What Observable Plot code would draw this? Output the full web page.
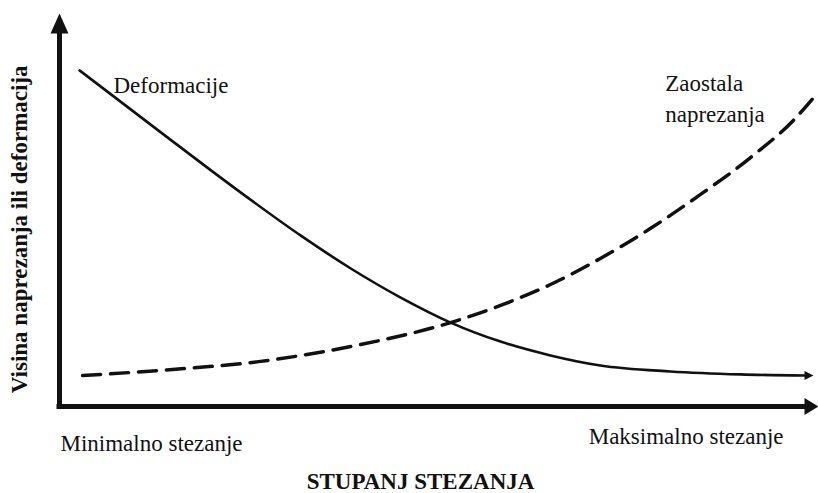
<!DOCTYPE html>
<html>
<head>
<meta charset="utf-8">
<script src="https://cdn.jsdelivr.net/npm/d3@7"></script>
<script src="https://cdn.jsdelivr.net/npm/@observablehq/plot@0.6"></script>
<style>
  html, body { margin: 0; padding: 0; background: #fff; }
  #chart svg { display: block; }
</style>
</head>
<body>
<div id="chart"></div>
<script>
// ---- data (arbitrary 0–100 units) ----
const deformacijeX = [2.7, 13.6, 24.3, 32.4, 39.1, 45.8, 52.5, 59.2, 65.9, 72.6, 82.0, 91.4, 100];
const deformacijeY = [90.1, 73.5, 57.4, 45.8, 37.0, 29.2, 22.5, 17.4, 13.7, 11.0, 9.4, 8.6, 8.3];

const naprezanjaX = [3.1, 13.6, 27.0, 40.4, 52.5, 59.2, 65.9, 72.6, 79.3, 86.0, 92.8, 98.5, 101.7];
const naprezanjaY = [8.3, 9.7, 12.1, 16.6, 22.5, 27.1, 32.7, 39.7, 47.7, 56.8, 66.8, 76.7, 83.9];

const seriesLabels = ["Deformacije", "Zaostala\nnaprezanja"];
const seriesLabelX = [7.25, 81.3];
const seriesLabelY = [89.9, 90.6];

const tickPositions = [0, 100];
const tickLabels = ["Minimalno stezanje", "Maksimalno stezanje"];

const xAxisTitle = "STUPANJ STEZANJA";
const yAxisTitle = "Visina naprezanja ili deformacija";

// ---- build tables ----
const solid = deformacijeX.map((x, i) => ({x, y: deformacijeY[i]}));
const dashed = naprezanjaX.map((x, i) => ({x, y: naprezanjaY[i]}));
const labels = seriesLabels.map((t, i) => ({t, x: seriesLabelX[i], y: seriesLabelY[i]}));

// filled arrowhead symbol: tip points "up" (rotate to orient); base centred on the anchor
function arrowHead(len, wid) {
  return {
    draw(ctx) {
      ctx.moveTo(0, -len);
      ctx.lineTo(wid / 2, 0);
      ctx.lineTo(-wid / 2, 0);
      ctx.closePath();
    }
  };
}

const ink = "#111";
const font = "Liberation Serif, Times New Roman, serif";

const chart = Plot.plot({
  width: 818,
  height: 493,
  marginLeft: 59,
  marginRight: 14,
  marginTop: 33,
  marginBottom: 87,
  x: {domain: [0, 100], axis: null},
  y: {domain: [0, 100], axis: null},
  style: {fontFamily: font, background: "#fff", color: ink},
  marks: [
    // axes
    Plot.ruleY([0], {stroke: ink, strokeWidth: 5, strokeLinecap: "square"}),
    Plot.ruleX([0], {stroke: ink, strokeWidth: 5, strokeLinecap: "square"}),
    Plot.dot([{x: 0, y: 100}], {x: "x", y: "y", symbol: arrowHead(20, 18), fill: ink, stroke: "none"}),
    Plot.dot([{x: 100, y: 0}], {x: "x", y: "y", symbol: arrowHead(14, 17), rotate: 90, fill: ink, stroke: "none"}),
    // curves
    Plot.line(dashed, {x: "x", y: "y", curve: "monotone-x", stroke: ink, strokeWidth: 3.5, strokeDasharray: "18,10"}),
    Plot.line(solid, {x: "x", y: "y", curve: "monotone-x", stroke: ink, strokeWidth: 2.6}),
    Plot.dot(solid.slice(-1), {x: "x", y: "y", symbol: arrowHead(9, 9), rotate: 90, fill: ink, stroke: "none"}),
    // curve labels
    Plot.text(labels, {x: "x", y: "y", text: "t", textAnchor: "start", lineAnchor: "top", lineHeight: 1.35,
      fontSize: 23, fill: ink}),
    // tick labels
    Plot.text([tickPositions[0]], {x: d => d, y: 0, text: () => tickLabels[0], textAnchor: "start", dx: 1, dy: 37.6,
      fontSize: 23, fill: ink}),
    Plot.text([tickPositions[1]], {x: d => d, y: 0, text: () => tickLabels[1], textAnchor: "end", dx: -21, dy: 30.6,
      fontSize: 23, fill: ink}),
    // axis titles
    Plot.text([xAxisTitle], {frameAnchor: "bottom", text: d => d, dx: -11.5, dy: 82,
      fontSize: 23, fontWeight: "bold", fill: ink}),
    Plot.text([yAxisTitle], {x: () => -5.3, y: () => 47.5, text: d => d, rotate: -90,
      fontSize: 23, fontWeight: "bold", fill: ink})
  ]
});

document.getElementById("chart").appendChild(chart);
</script>
</body>
</html>
